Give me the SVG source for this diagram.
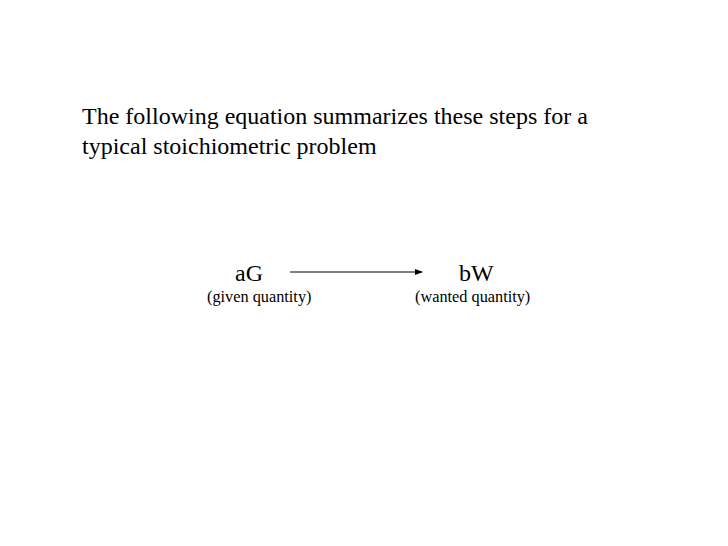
<svg xmlns="http://www.w3.org/2000/svg" width="728" height="546" viewBox="0 0 728 546">
<style>text{font-family:"Liberation Serif",serif;fill:#000}.t{font-size:24px}.m{font-size:24px}.s{font-size:16.3px}</style>
<defs><marker id="a" markerWidth="8" markerHeight="6" refX="7" refY="3" orient="auto" markerUnits="userSpaceOnUse"><path d="M0,0L8,3L0,6z" fill="#000"/></marker></defs>
<rect width="728" height="546" fill="#fff"/>
<text class="t" x="82" y="124">The following equation summarizes these steps for a</text>
<text class="t" x="82" y="154">typical stoichiometric problem</text>
<g id="given"><text class="m" x="235" y="281">aG</text><text class="s" x="207" y="302">(given quantity)</text></g>
<g id="wanted"><text class="m" x="459" y="281">bW</text><text class="s" x="415" y="302">(wanted quantity)</text></g>
<g id="connectors"><line x1="290" y1="272" x2="422" y2="272" stroke="#000" stroke-width="1" marker-end="url(#a)"/></g>
</svg>
